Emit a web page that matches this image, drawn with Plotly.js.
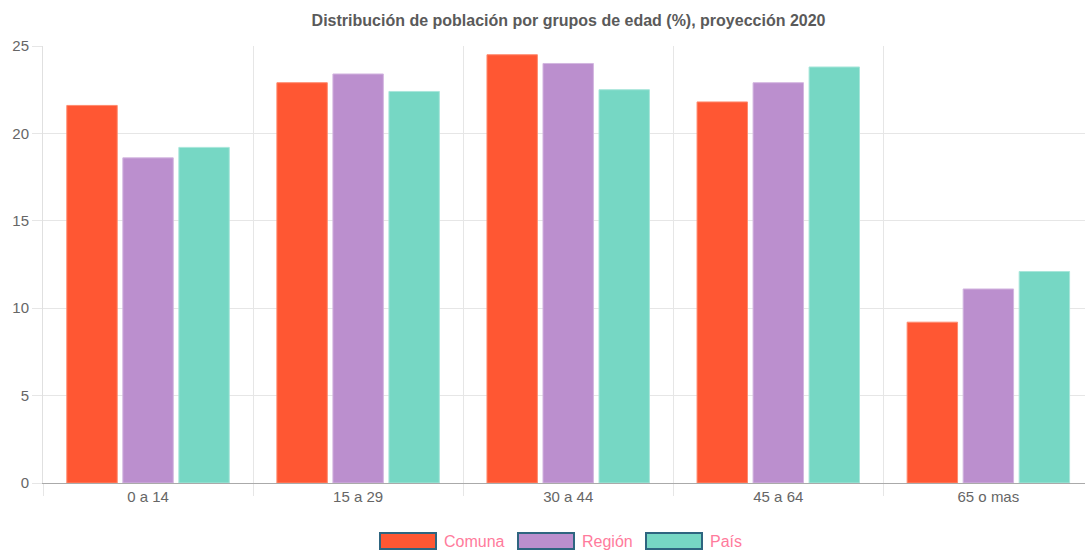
<!DOCTYPE html>
<html>
<head>
<meta charset="utf-8">
<script src="https://cdn.plot.ly/plotly-3.0.1.min.js"></script>
<style>html,body{margin:0;padding:0;background:#fff;}#chart{width:1085px;height:550px;}</style>
</head>
<body>
<div id="chart"></div>
<script>
const categories = ["0 a 14", "15 a 29", "30 a 44", "45 a 64", "65 o mas"];
const seriesNames = ["Comuna", "Región", "País"];
const comuna = [21.6, 22.9, 24.5, 21.8, 9.2];
const region = [18.6, 23.4, 24.0, 22.9, 11.1];
const pais = [19.2, 22.4, 22.5, 23.8, 12.1];
const yTicks = [0, 5, 10, 15, 20, 25];

const fills = ["#FF5733", "#BB8FCE", "#76D7C4"];
const edges = ["#FF8A6E", "#D3B6E0", "#A8E6DA"];
const values = [comuna, region, pais];

const traces = values.map((v, i) => ({
  type: "bar",
  name: seriesNames[i],
  x: categories,
  y: v,
  marker: {color: fills[i], line: {color: edges[i], width: 1}},
  hoverinfo: "x+y+name"
}));

// custom Chart.js-style legend
const legendBoxes = [[380, 436], [518, 574], [646, 702]];
const shapes = [];
const annotations = [];
legendBoxes.forEach((b, i) => {
  shapes.push({type: "rect", xref: "paper", yref: "paper",
    x0: (b[0] - 43) / 1042, x1: (b[1] - 43) / 1042,
    y0: (483 - 549) / 437, y1: (483 - 533) / 437,
    fillcolor: fills[i], line: {color: "#2E6580", width: 2}});
  annotations.push({xref: "paper", yref: "paper",
    x: (b[1] + 6 - 43) / 1042, y: (483 - 541) / 437,
    xanchor: "left", yanchor: "middle", showarrow: false,
    text: seriesNames[i],
    font: {family: "Liberation Sans, Arial, sans-serif", size: 16, color: "#FF7B9C"}});
});

const layout = {
  width: 1085, height: 550,
  margin: {l: 43, r: 0, t: 46, b: 67},
  paper_bgcolor: "#fff", plot_bgcolor: "#fff",
  title: {text: "<b>Distribución de población por grupos de edad (%), proyección 2020</b>",
    x: 0.524, xanchor: "center", y: 0.963, yanchor: "middle",
    font: {family: "Liberation Sans, Arial, sans-serif", size: 16, color: "#5a5a5a"}},
  barmode: "group",
  bargap: 0.2,
  bargroupgap: 0.1,
  showlegend: false,
  xaxis: {
    type: "category",
    range: [-0.5, 4.46],
    tickson: "boundaries",
    ticks: "outside", ticklen: 12, tickcolor: "#e6e6e6", tickwidth: 1,
    showgrid: true, gridcolor: "#e6e6e6", gridwidth: 1,
    showline: true, linecolor: "#aaa", linewidth: 1,
    tickfont: {family: "Liberation Sans, Arial, sans-serif", size: 15, color: "#666"},
    fixedrange: true
  },
  yaxis: {
    range: [0, 25],
    tickvals: yTicks,
    ticktext: yTicks.map(String),
    ticks: "outside", ticklen: 10, tickcolor: "#e6e6e6", tickwidth: 1,
    showgrid: true, gridcolor: "#e6e6e6", gridwidth: 1,
    zeroline: false,
    showline: true, linecolor: "#e0e0e0", linewidth: 1,
    tickfont: {family: "Liberation Sans, Arial, sans-serif", size: 15, color: "#666"},
    fixedrange: true
  },
  shapes: shapes,
  annotations: annotations
};

Plotly.newPlot("chart", traces, layout, {displayModeBar: false, staticPlot: true});
</script>
</body>
</html>
